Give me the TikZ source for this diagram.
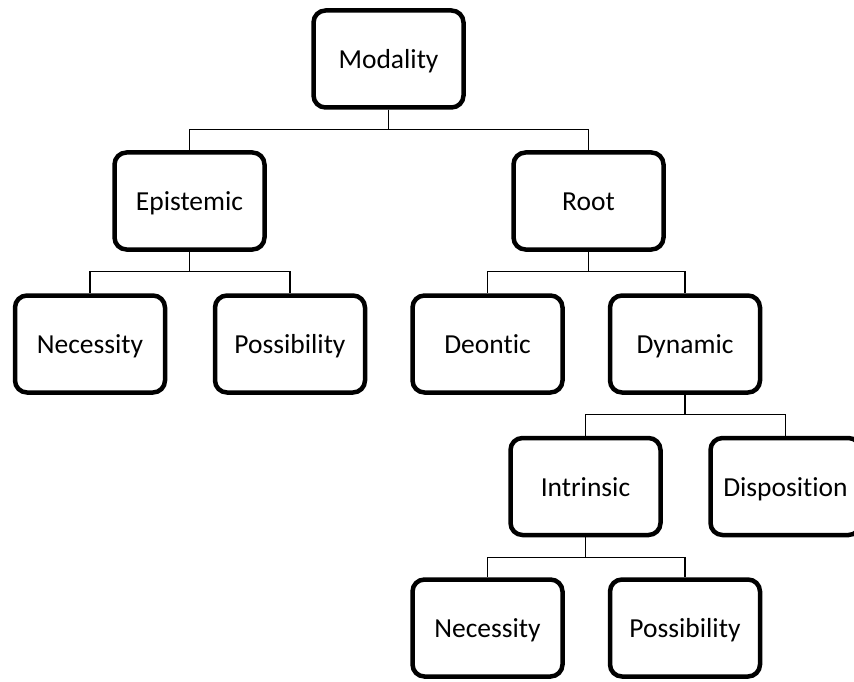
\documentclass[tikz,border=0pt]{standalone}
\usepackage{fontspec}
\setmainfont{Carlito}[Ligatures={NoCommon}]
\begin{document}
\begin{tikzpicture}[x=1pt,y=-1pt,
  box/.style={draw=black, line width=4.5pt, rounded corners=12pt, fill=white,
    minimum width=150pt, minimum height=97pt, inner sep=0pt,
    text height=22pt, text depth=3pt,
    font=\fontsize{27.5}{32}\selectfont},
  link/.style={draw=black, line width=1.4pt}]
  \useasboundingbox (0,0) rectangle (854,682);
  \clip (0,0) rectangle (854,682);
  \fill[white] (0,0) rectangle (854,682);

  % boxes
  \node[box] (mod)  at (388.5,59)   {Modality};
  \node[box] (epi)  at (189.5,201)  {Epistemic};
  \node[box] (root) at (588.5,201)  {Root};
  \node[box] (nec1) at (90,344)     {Necessity};
  \node[box] (pos1) at (290,344)    {Possibility};
  \node[box] (deo)  at (487.5,344)  {Deontic};
  \node[box] (dyn)  at (685,344)    {Dynamic};
  \node[box] (intr) at (585.5,486.5){Intrinsic};
  \node[box] (disp) at (785.5,486.5){Disposition};
  \node[box] (nec2) at (487.5,628)  {Necessity};
  \node[box] (pos2) at (685,628)    {Possibility};

  % elbow connectors
  \foreach \p/\c in {mod/epi, mod/root, epi/nec1, epi/pos1, root/deo, root/dyn,
                     dyn/intr, dyn/disp, intr/nec2, intr/pos2}
    \draw[link] (\p.south) -- ++(0,20) -| (\c.north);
\end{tikzpicture}
\end{document}
